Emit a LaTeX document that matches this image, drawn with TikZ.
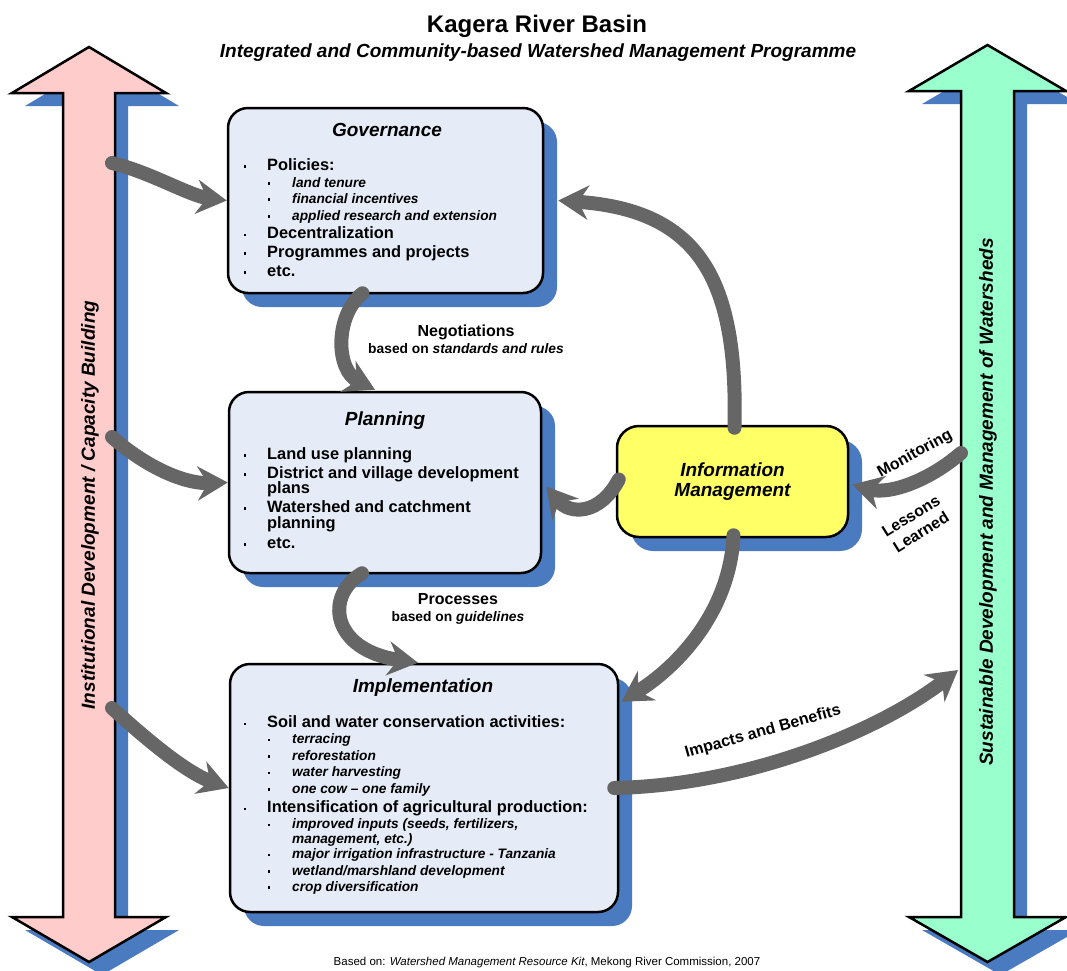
\documentclass[tikz,border=0pt]{standalone}
\usepackage{fontspec}
\setmainfont{Liberation Sans}
\usetikzlibrary{arrows.meta,shadows,calc}
\definecolor{shadowblue}{RGB}{74,122,192}
\definecolor{boxblue}{RGB}{230,236,247}
\definecolor{pinkar}{RGB}{255,204,204}
\definecolor{mintar}{RGB}{153,255,204}
\definecolor{infoyel}{RGB}{255,255,102}
\definecolor{conncol}{RGB}{102,102,102}
\newcommand\fsz[2]{\fontsize{#1}{#2}\selectfont}
\newcommand\bul[2]{\fill (#1-1.4,#2-4.9) rectangle ++(2.8,2.8);}
\newcommand\mitem[3]{\bul{245}{#2}\node[mainitem,anchor=base west] (#1) at (267,#2) {#3};}
\newcommand\sitem[3]{\bul{269}{#2}\node[subitem,anchor=base west] (#1) at (292,#2) {#3};}
\begin{document}
\begin{tikzpicture}[x=1pt,y=-1pt,
  box/.style={draw=black, line width=2.5pt, rounded corners=20pt, fill=boxblue,
    drop shadow={shadow xshift=14pt, shadow yshift=-14pt, fill=shadowblue, opacity=1}},
  mainitem/.style={font=\fsz{16.4}{19}\bfseries, inner sep=0pt, text height=11.5pt, text depth=3pt},
  subitem/.style={font=\fsz{13.7}{16}\bfseries\itshape, inner sep=0pt, text height=10pt, text depth=2.5pt},
  ttl/.style={font=\fsz{19}{21}\bfseries\itshape, inner sep=0pt},
  lbl/.style={font=\fsz{16}{19}\bfseries, inner sep=0pt},
  lbls/.style={font=\fsz{13.8}{16}\bfseries, inner sep=0pt, text height=10pt, text depth=2.5pt},
  conn/.style={draw=conncol, line width=14pt, line cap=round,
    -{Stealth[length=30pt,width=34pt,inset=10pt]}},
  bigarrow/.style={draw=black, line width=2.5pt, line join=miter}
]
\useasboundingbox (0,0) rectangle (1067,970);

% big double arrows
\fill[shadowblue, shift={(13,13)}] (89,47) -- (166,93) -- (115,93) -- (115,917) -- (166,917) -- (89,962) -- (12,917) -- (63,917) -- (63,93) -- (12,93) -- cycle;
\path[bigarrow, fill=pinkar] (89,47) -- (166,93) -- (115,93) -- (115,917) -- (166,917) -- (89,962) -- (12,917) -- (63,917) -- (63,93) -- (12,93) -- cycle;
\fill[shadowblue, shift={(13,13)}] (987.5,45) -- (1066,91) -- (1014,91) -- (1014,917) -- (1066,917) -- (987.5,962) -- (909,917) -- (961,917) -- (961,91) -- (909,91) -- cycle;
\path[bigarrow, fill=mintar] (987.5,45) -- (1066,91) -- (1014,91) -- (1014,917) -- (1066,917) -- (987.5,962) -- (909,917) -- (961,917) -- (961,91) -- (909,91) -- cycle;

\node[rotate=90, font=\fsz{19}{21}\bfseries\itshape] (ltext) at (90,505) {Institutional Development / Capacity Building};
\node[rotate=90, font=\fsz{19}{21}\bfseries\itshape] (rtext) at (988,502) {Sustainable Development and Management of Watersheds};

% title
\node[font=\fsz{24}{28}\bfseries, anchor=base, inner sep=0pt] (title) at (537,32) {Kagera River Basin};
\node[font=\fsz{19}{21}\bfseries\itshape, anchor=base, inner sep=0pt] (subtitle) at (538,57) {Integrated and Community-based Watershed Management Programme};

% boxes
\node[box, minimum width=315pt, minimum height=185pt] (gov) at (385.5,200.5) {};
\node[box, minimum width=312pt, minimum height=181pt] (plan) at (385,482.5) {};
\node[box, minimum width=388pt, minimum height=248pt] (impl) at (424,788) {};
\node[box, fill=infoyel, rounded corners=22pt, minimum width=231pt, minimum height=111pt, align=center, font=\fsz{19}{20.7}\bfseries\itshape] (info) at (732.5,481.5) {Information\\Management};

% governance content
\node[ttl, anchor=base] (govt) at (387,136) {Governance};
\mitem{g1}{170}{Policies:}
\sitem{g2}{187}{land tenure}
\sitem{g3}{203}{financial incentives}
\sitem{g4}{220}{applied research and extension}
\mitem{g5}{238.5}{Decentralization}
\mitem{g6}{257}{Programmes and projects}
\mitem{g7}{276}{etc.}

% planning content
\node[ttl, anchor=base] (plant) at (385,425) {Planning};
\mitem{p1}{459}{Land use planning}
\mitem{p2}{478}{District and village development}
\node[mainitem, anchor=base west] (p2b) at (267,493) {plans};
\mitem{p3}{512}{Watershed and catchment}
\node[mainitem, anchor=base west] (p3b) at (267,528) {planning};
\mitem{p4}{548}{etc.}

% implementation content
\node[ttl, anchor=base] (implt) at (423,692.5) {Implementation};
\mitem{i1}{727.5}{Soil and water conservation activities:}
\sitem{i2}{743.5}{terracing}
\sitem{i3}{760}{reforestation}
\sitem{i4}{776.5}{water harvesting}
\sitem{i5}{793}{one cow -- one family}
\mitem{i6}{812.5}{Intensification of agricultural production:}
\sitem{i7}{828.5}{improved inputs (seeds, fertilizers,}
\node[subitem, anchor=base west] (i7b) at (292,843) {management, etc.)};
\sitem{i8}{858.5}{major irrigation infrastructure - Tanzania}
\sitem{i9}{875}{wetland/marshland development}
\sitem{i10}{891}{crop diversification}

% connector anchors
\coordinate (s1) at (112,163);
\coordinate (s2) at (112,437);
\coordinate (s3) at (112,708);
\coordinate (s9) at (961,453);
\coordinate (e10) at (958,670);

% connectors
\draw[conn] (s1) .. controls (150,172) and (190,196) .. (gov.west);
\draw[conn] (s2) .. controls (140,462) and (180,484) .. (plan.west);
\draw[conn] (s3) .. controls (145,738) and (185,772) .. (impl.west);
\draw[conn] ($(gov.south)+(-23,-1)$) .. controls (335,315) and (335,370) .. ($(plan.north)+(-10,-1)$);
\draw[conn] ($(plan.south)+(-23,-1)$) .. controls (325,595) and (330,650) .. ($(impl.north)+(-6,0)$);
\draw[conn] ($(info.north)+(2,3)$) .. controls (738,280) and (700,210) .. ($(gov.east)+(14,0)$);
\draw[conn] ($(info.west)+(3,-2)$) .. controls (600,515) and (570,515) .. ($(plan.east)+(4,4)$);
\draw[conn] ($(info.south)+(1,-3)$) .. controls (730,610) and (680,665) .. ($(impl.north east)+(2,39)$);
\draw[conn] (s9) .. controls (930,480) and (890,495) .. ($(info.east)+(3,3)$);
\draw[conn] ($(impl.east)+(-5,0)$) .. controls (750,785) and (880,730) .. (e10);

% labels
\node[lbl, anchor=base] (nego1) at (466,336) {Negotiations};
\node[lbls, anchor=base] (nego2) at (466,353) {based on \textit{standards and rules}};
\node[lbl, anchor=base] (proc1) at (458,604) {Processes};
\node[lbls, anchor=base] (proc2) at (458,621) {based on \textit{guidelines}};
\node[lbl, rotate=29] (mon) at (915,454) {Monitoring};
\node[lbl, rotate=32, align=center] (les) at (916,524) {Lessons\\Learned};
\node[lbl, rotate=15.7] (imp) at (763,732) {Impacts and Benefits};

% footer
\node[font=\fsz{11.5}{13}, anchor=base, inner sep=0pt] (foot) at (547,965) {Based on: \textit{Watershed Management Resource Kit}, Mekong River Commission, 2007};
\end{tikzpicture}
\end{document}
